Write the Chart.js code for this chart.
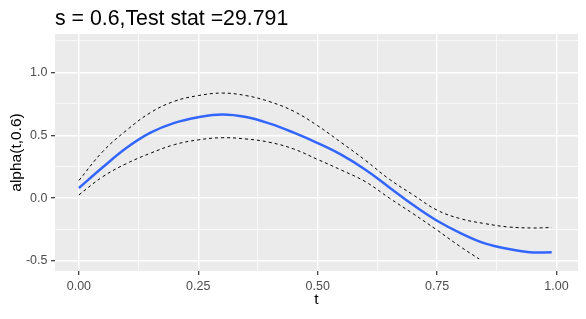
<!DOCTYPE html>
<html>
<head>
<meta charset="utf-8">
<script src="https://cdn.jsdelivr.net/npm/chart.js@4.4.0/dist/chart.umd.min.js"></script>
<style>
  html, body { margin: 0; padding: 0; background: #ffffff; }
  #wrap { width: 586px; height: 319px; }
</style>
</head>
<body>
<div id="wrap"><canvas id="c" width="586" height="319"></canvas></div>
<script>
// ---- data ----
const titleText = "s = 0.6,Test stat =29.791";
const xTitle = "t";
const yTitle = "alpha(t,0.6)";

const tValues = [0, 0.05, 0.1, 0.15, 0.2, 0.25, 0.3, 0.35, 0.4, 0.45, 0.5, 0.55, 0.6, 0.65, 0.7, 0.75, 0.8, 0.85, 0.9, 0.95, 0.99];
const alphaValues = [0.08, 0.245, 0.40, 0.52, 0.598, 0.643, 0.665, 0.645, 0.592, 0.52, 0.437, 0.343, 0.225, 0.085, -0.055, -0.18, -0.28, -0.36, -0.405, -0.432, -0.43];
const upperValues = [0.14, 0.37, 0.54, 0.68, 0.77, 0.815, 0.835, 0.815, 0.766, 0.69, 0.575, 0.44, 0.30, 0.15, 0.025, -0.096, -0.165, -0.203, -0.23, -0.238, -0.234];
const lowerT = [0, 0.05, 0.1, 0.15, 0.2, 0.25, 0.3, 0.35, 0.4, 0.45, 0.5, 0.55, 0.6, 0.65, 0.7, 0.75, 0.8, 0.838];
const lowerValues = [0.025, 0.17, 0.275, 0.357, 0.425, 0.463, 0.48, 0.47, 0.443, 0.39, 0.307, 0.222, 0.13, 0.0, -0.125, -0.255, -0.39, -0.484];

const xTicks = [0, 0.125, 0.25, 0.375, 0.5, 0.625, 0.75, 0.875, 1.0];
const yTicks = [-0.5, -0.25, 0, 0.25, 0.5, 0.75, 1.0, 1.25];
const xMajorStep = 0.25;
const yMajorStep = 0.5;

const pts = (xs, ys) => xs.map((x, i) => ({ x: x, y: ys[i] }));
const isMajor = (v, step) => Math.abs(v / step - Math.round(v / step)) < 1e-6;

const FONT = '"Liberation Sans", Arial, sans-serif';

const panelBg = {
  id: 'panelBg',
  beforeDraw(chart) {
    const { ctx, chartArea: a } = chart;
    ctx.save();
    ctx.fillStyle = '#ffffff';
    ctx.fillRect(0, 0, chart.width, chart.height);
    ctx.fillStyle = '#EBEBEB';
    ctx.fillRect(a.left, a.top, a.right - a.left, a.bottom - a.top);
    ctx.restore();
  },
  afterDraw(chart) {
    const { ctx, chartArea: a } = chart;
    ctx.save();
    ctx.fillStyle = '#000000';
    ctx.font = '21.3px ' + FONT;
    ctx.textBaseline = 'alphabetic';
    ctx.textAlign = 'left';
    ctx.fillText(titleText, a.left, 24.5);
    ctx.restore();
  }
};

function gridOpts(step) {
  return {
    display: true,
    drawOnChartArea: true,
    drawTicks: true,
    tickLength: 4,
    color: '#ffffff',
    lineWidth: (c) => (c.tick && isMajor(c.tick.value, step)) ? 1.4 : 0.7,
    tickColor: (c) => (c.tick && isMajor(c.tick.value, step)) ? '#333333' : 'rgba(0,0,0,0)',
    tickWidth: 1.2
  };
}

const lineBase = { pointRadius: 0, fill: false, tension: 0.4 };

new Chart(document.getElementById('c'), {
  type: 'line',
  data: {
    datasets: [
      Object.assign({
        label: 'upper',
        data: pts(tValues, upperValues),
        borderColor: '#000000',
        borderWidth: 1,
        borderDash: [3, 3]
      }, lineBase),
      Object.assign({
        label: 'lower',
        data: pts(lowerT, lowerValues),
        borderColor: '#000000',
        borderWidth: 1,
        borderDash: [3, 3]
      }, lineBase),
      Object.assign({
        label: 'alpha',
        data: pts(tValues, alphaValues),
        borderColor: '#3366FF',
        borderWidth: 2.5
      }, lineBase)
    ]
  },
  options: {
    responsive: false,
    animation: false,
    devicePixelRatio: 1,
    layout: { padding: { top: 34, right: 8, left: 0, bottom: 0 } },
    plugins: {
      legend: { display: false },
      title: { display: false },
      tooltip: { enabled: false }
    },
    scales: {
      x: {
        type: 'linear',
        min: -0.05,
        max: 1.045,
        afterBuildTicks: (s) => { s.ticks = xTicks.map(v => ({ value: v })); },
        afterFit: (s) => { s.height = 48; },
        grid: gridOpts(xMajorStep),
        border: { display: false },
        ticks: {
          autoSkip: false,
          maxRotation: 0,
          padding: 4,
          color: '#4D4D4D',
          font: { family: FONT, size: 12.5 },
          callback: (v) => isMajor(v, xMajorStep) ? Number(v).toFixed(2) : ''
        },
        title: {
          display: true,
          text: xTitle,
          color: '#000000',
          font: { family: FONT, size: 15.5 },
          padding: { top: 0, bottom: 10 }
        }
      },
      y: {
        type: 'linear',
        min: -0.58,
        max: 1.305,
        afterBuildTicks: (s) => { s.ticks = yTicks.map(v => ({ value: v })); },
        afterFit: (s) => { s.width = 55; },
        grid: gridOpts(yMajorStep),
        border: { display: false },
        ticks: {
          autoSkip: false,
          padding: 3.5,
          color: '#4D4D4D',
          font: { family: FONT, size: 12.5 },
          callback: (v) => isMajor(v, yMajorStep) ? Number(v).toFixed(1) : ''
        },
        title: {
          display: true,
          text: yTitle,
          color: '#000000',
          font: { family: FONT, size: 15.5 },
          padding: { top: 7, bottom: 0 }
        }
      }
    }
  },
  plugins: [panelBg]
});
</script>
</body>
</html>
